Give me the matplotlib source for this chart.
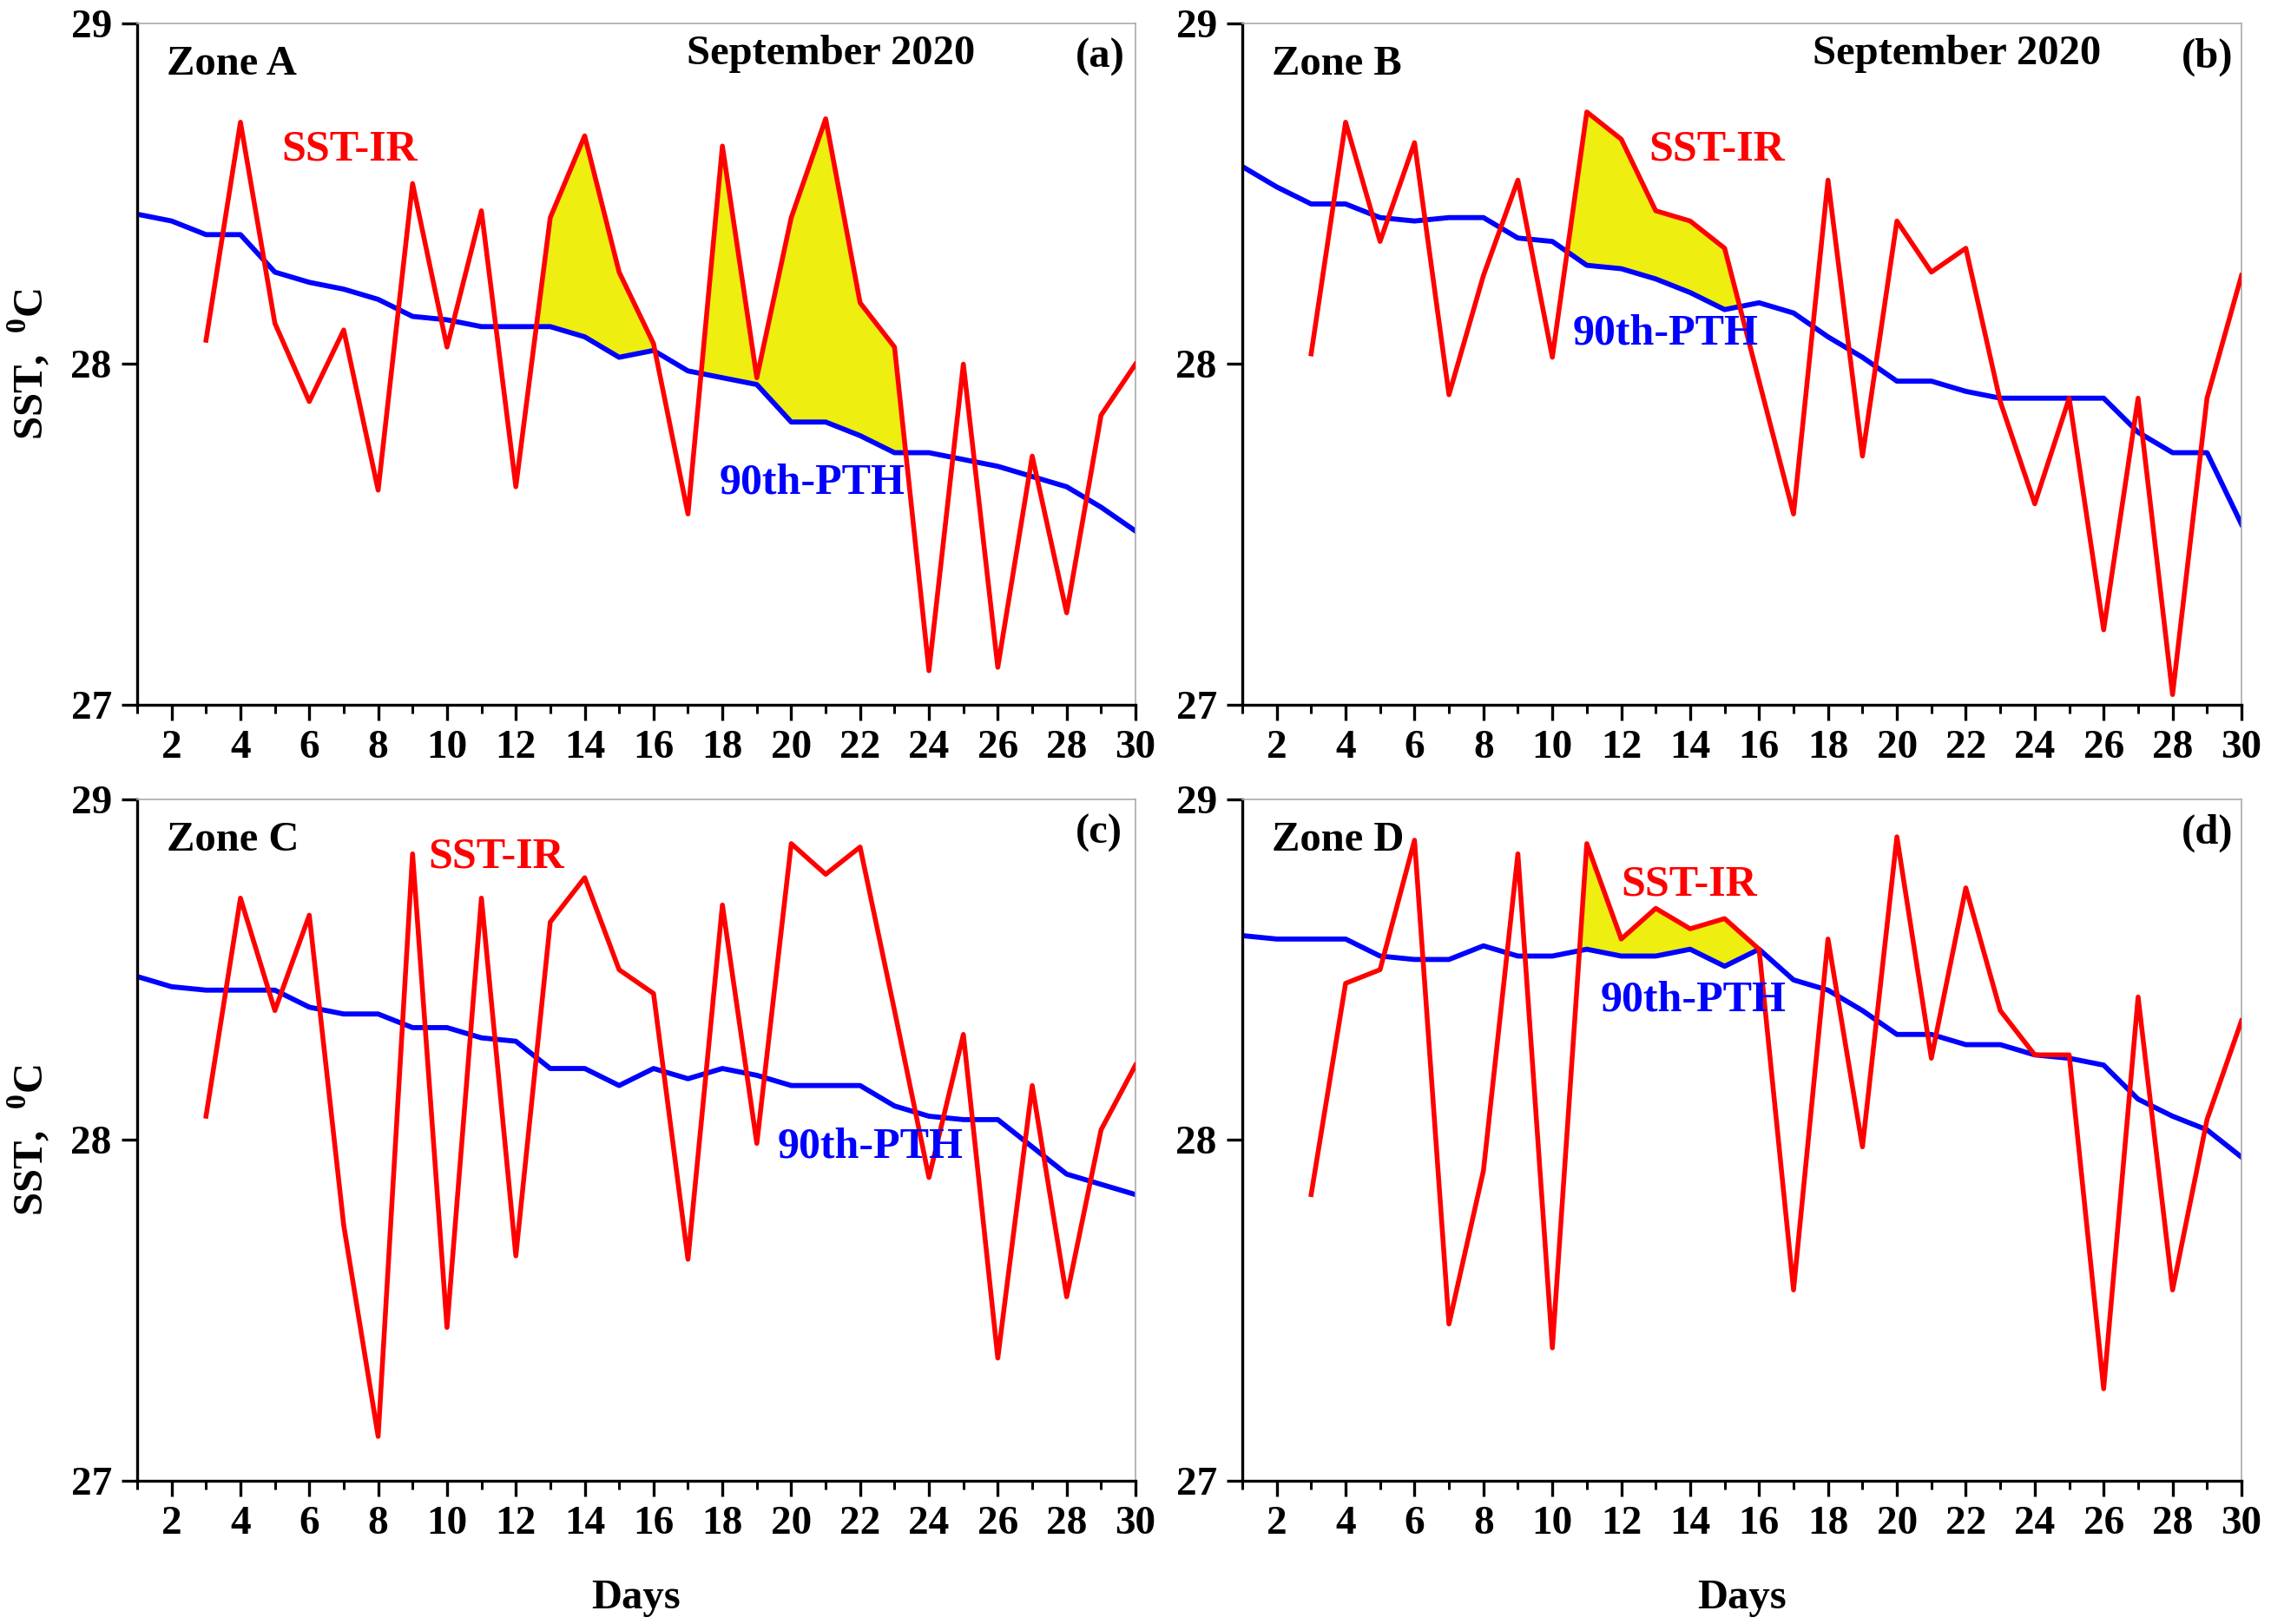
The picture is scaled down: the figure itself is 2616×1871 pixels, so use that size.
# SST-IR vs 90th percentile threshold, September 2020, four zones
import numpy as np
import matplotlib.pyplot as plt
from matplotlib.ticker import MultipleLocator

plt.rcParams['font.family'] = ['Liberation Serif', 'DejaVu Serif']
plt.rcParams['font.weight'] = 'bold'
plt.rcParams['mathtext.fontset'] = 'custom'
plt.rcParams['mathtext.rm'] = 'Liberation Serif:bold'

days = np.arange(1, 31)
nan = np.nan

# SST-IR (red), no data on days 1-2
sst_a = [nan, nan, 28.07, 28.71, 28.12, 27.89, 28.10, 27.63, 28.53, 28.05,
         28.45, 27.64, 28.43, 28.67, 28.27, 28.06, 27.56, 28.64, 27.96, 28.43,
         28.72, 28.18, 28.05, 27.10, 28.00, 27.11, 27.73, 27.27, 27.85, 28.00]
sst_b = [nan, nan, 28.03, 28.71, 28.36, 28.65, 27.91, 28.26, 28.54, 28.02,
         28.74, 28.66, 28.45, 28.42, 28.34, 27.95, 27.56, 28.54, 27.73, 28.42,
         28.27, 28.34, 27.89, 27.59, 27.90, 27.22, 27.90, 27.03, 27.90, 28.26]
sst_c = [nan, nan, 28.07, 28.71, 28.38, 28.66, 27.75, 27.13, 28.84, 27.45,
         28.71, 27.66, 28.64, 28.77, 28.50, 28.43, 27.65, 28.69, 27.99, 28.87,
         28.78, 28.86, 28.38, 27.89, 28.31, 27.36, 28.16, 27.54, 28.03, 28.22]
sst_d = [nan, nan, 27.84, 28.46, 28.50, 28.88, 27.46, 27.91, 28.84, 27.39,
         28.87, 28.59, 28.68, 28.62, 28.65, 28.56, 27.56, 28.59, 27.98, 28.89,
         28.24, 28.74, 28.38, 28.25, 28.25, 27.27, 28.42, 27.56, 28.06, 28.35]

# 90th percentile threshold (blue)
pth_a = [28.44, 28.42, 28.38, 28.38, 28.27, 28.24, 28.22, 28.19, 28.14, 28.13,
         28.11, 28.11, 28.11, 28.08, 28.02, 28.04, 27.98, 27.96, 27.94, 27.83,
         27.83, 27.79, 27.74, 27.74, 27.72, 27.70, 27.67, 27.64, 27.58, 27.51]
pth_b = [28.58, 28.52, 28.47, 28.47, 28.43, 28.42, 28.43, 28.43, 28.37, 28.36,
         28.29, 28.28, 28.25, 28.21, 28.16, 28.18, 28.15, 28.08, 28.02, 27.95,
         27.95, 27.92, 27.90, 27.90, 27.90, 27.90, 27.80, 27.74, 27.74, 27.53]
pth_c = [28.48, 28.45, 28.44, 28.44, 28.44, 28.39, 28.37, 28.37, 28.33, 28.33,
         28.30, 28.29, 28.21, 28.21, 28.16, 28.21, 28.18, 28.21, 28.19, 28.16,
         28.16, 28.16, 28.10, 28.07, 28.06, 28.06, 27.98, 27.90, 27.87, 27.84]
pth_d = [28.60, 28.59, 28.59, 28.59, 28.54, 28.53, 28.53, 28.57, 28.54, 28.54,
         28.56, 28.54, 28.54, 28.56, 28.51, 28.56, 28.47, 28.44, 28.38, 28.31,
         28.31, 28.28, 28.28, 28.25, 28.24, 28.22, 28.12, 28.07, 28.03, 27.95]

zones = ['Zone A', 'Zone B', 'Zone C', 'Zone D']
tags = ['(a)', '(b)', '(c)', '(d)']
show_month = [True, True, False, False]
# day windows where the exceedance is shaded
fill_windows = [[(12, 17), (17, 24)], [(10, 16)], [], [(10, 17)]]

# label positions (day, SST)
sst_pos = [(5.2, 28.63), (12.8, 28.63), (9.45, 28.83), (12.0, 28.75)]
pth_pos = [(17.9, 27.65), (10.6, 28.09), (19.6, 27.98), (11.4, 28.41)]
month_x = [16.95, 17.55]

fig = plt.figure(figsize=(26.16, 18.71), dpi=100)
boxes = [[0.0604, 0.566, 0.4396, 0.4196],
         [0.547, 0.566, 0.440, 0.4196],
         [0.0604, 0.0882, 0.4396, 0.4196],
         [0.547, 0.0882, 0.440, 0.4196]]

all_sst = [sst_a, sst_b, sst_c, sst_d]
all_pth = [pth_a, pth_b, pth_c, pth_d]

for i in range(4):
    ax = fig.add_axes(boxes[i])
    red = np.array(all_sst[i])
    blue = np.array(all_pth[i])

    for lo, hi in fill_windows[i]:
        mask = (red > blue) & (days >= lo) & (days <= hi)
        ax.fill_between(days, blue, red, where=mask, interpolate=True,
                        color='#eeee11', lw=0, zorder=1)

    ax.plot(days, blue, color='#0000ff', lw=4.2, zorder=2)
    ax.plot(days, red, color='#ff0000', lw=4.0, zorder=3)

    ax.set_xlim(1, 30)
    ax.set_ylim(27, 29)
    ax.xaxis.set_major_locator(MultipleLocator(2))
    ax.xaxis.set_minor_locator(MultipleLocator(1))
    ax.set_yticks([27, 28, 29])
    ax.set_xticks(range(2, 31, 2))

    for s in ['top', 'right']:
        ax.spines[s].set_color('#aaaaaa')
        ax.spines[s].set_linewidth(1.2)
    for s in ['left', 'bottom']:
        ax.spines[s].set_linewidth(2.4)
    ax.tick_params(which='major', direction='out', length=13, width=2.4,
                   labelsize=34, pad=8)
    ax.tick_params(which='minor', direction='out', length=7, width=2.2)
    ax.tick_params(axis='x', top=False, which='both')
    ax.tick_params(axis='y', right=False, which='both')
    for lab in ax.get_xticklabels() + ax.get_yticklabels():
        lab.set_fontweight('bold')

    ax.text(1.85, 28.88, zones[i], fontsize=35, fontweight='bold', va='center')
    ax.text(28.25, 28.9, tags[i], fontsize=35, fontweight='bold', va='center')
    if show_month[i]:
        ax.text(month_x[i], 28.91, 'September 2020', fontsize=35,
                fontweight='bold', va='center')
    ax.text(*sst_pos[i], 'SST-IR', color='#ff0000', fontsize=36,
            fontweight='bold', va='center')
    ax.text(*pth_pos[i], '90th-PTH', color='#0000ff', fontsize=36,
            fontweight='bold', va='center')

    if i >= 2:
        ax.set_xlabel('Days', fontsize=35, fontweight='bold', labelpad=30)

for yc in [0.776, 0.298]:
    fig.text(0.0125, yc, r'SST,  $^{0}$C', fontsize=35, fontweight='bold',
             rotation=90, ha='center', va='center')

plt.savefig('out.png', dpi=100)
